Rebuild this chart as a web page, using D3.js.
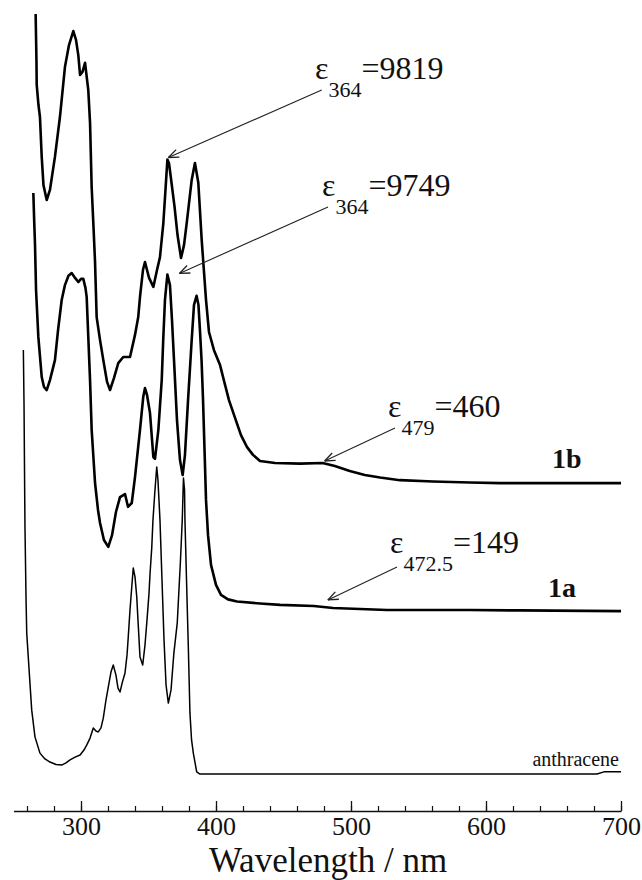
<!DOCTYPE html>
<html>
<head>
<meta charset="utf-8">
<script src="https://cdn.jsdelivr.net/npm/d3@7/dist/d3.min.js"></script>
<style>
  html, body { margin: 0; padding: 0; background: #fff; }
  svg { display: block; }
  text { font-family: "Liberation Serif", "Times New Roman", serif; fill: #111; }
</style>
</head>
<body>
<svg id="chart" width="642" height="880"></svg>
<script>
// UV-Vis absorption spectra: wavelength (nm) vs. molar absorptivity ε (M^-1 cm^-1)
const spectrum1b = [
  [266.4,14310],[267.0,12890],[267.2,12120],[268.5,11500],[269.6,11130],[270.9,9900],[272.2,9030],
  [274.6,8570],[277.0,8880],[280.7,9900],[284.4,11130],[288.1,12670],[291.1,13350],[294.3,13780],
  [296.3,13510],[298.0,13040],[299.3,12430],[301.1,12520],[303.0,12800],[305.4,11960],[306.7,10950],
  [307.9,8970],[309.1,7890],[310.4,6660],[311.6,4960],[314.1,4250],[316.5,3640],[319.3,2960],
  [321.5,2710],[324.4,3080],[327.6,3540],[331.3,3730],[336.3,3730],[340.0,4410],[342.4,4960],
  [343.7,5580],[345.9,6410],[347.4,6660],[350.4,6170],[353.6,5890],[356.3,6410],[358.5,6810],
  [361.0,7860],[362.6,8900],[364.0,9819],[365.2,9700],[366.6,9250],[369.3,8360],[371.5,7490],
  [374.1,6780],[376.3,7180],[378.3,7860],[382.0,9190],[384.4,9710],[386.9,9100],[389.4,7340],
  [392.6,5490],[394.8,4500],[398.5,3940],[403.0,3480],[406.7,2870],[409.6,2400],[414.1,1850],
  [418.5,1320],[423.0,950],[427.4,710],[432.6,520],[443.7,460],[462.2,440],[479.0,460],[488.0,370],
  [499.1,210],[510.2,90],[521.5,10],[536.3,-70],[560.7,-110],[588.1,-140],[610.4,-160],[700,-160]
];

const spectrum1a = [
  [264.7,12110],[265.3,11330],[265.9,10660],[266.7,9300],[268.4,7940],[270.9,6780],[272.6,6490],
  [274.6,6400],[277.0,6690],[280.7,7270],[283.0,8140],[285.7,9010],[288.1,9440],[290.7,9710],
  [293.1,9790],[295.6,9650],[298.0,9530],[300.0,9620],[301.7,9620],[303.3,9360],[304.2,9100],
  [305.4,7940],[306.7,6690],[307.9,5250],[310.4,3710],[312.6,2930],[314.1,2550],[317.0,2060],
  [320.2,1860],[323.0,2200],[325.9,2870],[328.9,3300],[332.6,3390],[334.8,3020],[337.6,3130],
  [340.0,3880],[343.7,5250],[346.1,6200],[347.4,6460],[348.9,6260],[351.1,5740],[353.6,4460],
  [354.8,4410],[357.3,5250],[359.8,6690],[360.9,7850],[362.2,9010],[364.0,9749],[365.9,9440],
  [367.4,8430],[368.9,7270],[371.1,5530],[373.3,4380],[375.3,3940],[377.0,4520],[379.3,6110],
  [382.0,7850],[383.7,8870],[385.6,9130],[387.0,8870],[388.1,8140],[389.3,7270],[390.4,6110],
  [391.5,4670],[392.6,3220],[394.1,2200],[396.3,1340],[400.0,760],[403.7,470],[408.9,340],
  [415.6,280],[432.6,220],[447.4,180],[472.5,149],[486.7,90],[506.7,60],[526.7,30],[588.1,30],
  [625.2,20],[700,0]
];

// anthracene, normalised absorbance
const spectrumAnthracene = [
  [257.3,1.381],[257.8,1.202],[258.1,1.023],[258.5,0.805],[259.3,0.567],[259.8,0.459],[261.7,0.329],
  [263.5,0.208],[265.9,0.121],[269.6,0.068],[273.3,0.049],[277.0,0.039],[281.5,0.031],[285.7,0.029],
  [288.9,0.036],[291.9,0.046],[295.6,0.055],[299.3,0.062],[302.2,0.078],[304.2,0.094],[306.7,0.117],
  [309.1,0.150],[311.1,0.140],[312.8,0.137],[314.8,0.150],[316.5,0.182],[318.5,0.241],[320.2,0.283],
  [322.2,0.332],[323.9,0.355],[325.9,0.322],[327.4,0.280],[328.9,0.267],[330.7,0.300],[332.6,0.329],
  [334.1,0.388],[335.0,0.446],[336.3,0.534],[337.6,0.609],[338.7,0.671],[340.0,0.642],[341.3,0.577],
  [342.2,0.502],[343.7,0.381],[345.7,0.355],[347.4,0.420],[348.9,0.502],[350.4,0.590],[351.1,0.650],
  [352.4,0.736],[353.3,0.827],[354.8,0.925],[356.1,1.000],[357.0,0.958],[358.5,0.827],[360.0,0.632],
  [361.5,0.436],[363.0,0.290],[364.7,0.231],[366.7,0.274],[368.8,0.394],[371.3,0.492],[373.7,0.697],
  [375.0,0.827],[375.9,0.964],[376.7,0.925],[377.0,0.827],[378.3,0.609],[379.5,0.414],[380.7,0.199],
  [381.9,0.111],[383.2,0.068],[385.7,0.007],[388.1,0],[682.2,0],[687.4,0.007],[700,0.007]
];

const majorTicks = [300, 400, 500, 600, 700];
const minorTicks = d3.range(260, 701, 20);
const xTitle = "Wavelength / nm";

// ε annotations: [series, wavelength, subscript, value]
const annotations = [
  ["1b", 364, "364", 9819],
  ["1a", 364, "364", 9749],
  ["1b", 479, "479", 460],
  ["1a", 472.5, "472.5", 149]
];

// ---------- layout ----------
const svg = d3.select("#chart");
const x = d3.scaleLinear().domain([250, 700]).range([13.5, 621]);
const axisY = 811;

// each trace is drawn in its own vertical band (stacked, offset spectra)
const yScales = {
  "1b": d3.scaleLinear().domain([0, 10000]).range([477.9, 153.65]),
  "1a": d3.scaleLinear().domain([0, 10000]).range([611.1, 265.8]),
  "anthracene": d3.scaleLinear().domain([0, 1]).range([774, 467])
};

const traces = [
  { key: "1b", data: spectrum1b, width: 2.6 },
  { key: "1a", data: spectrum1a, width: 2.6 },
  { key: "anthracene", data: spectrumAnthracene, width: 1.5 }
];

traces.forEach(t => {
  const y = yScales[t.key];
  const line = d3.line().x(d => x(d[0])).y(d => y(d[1])).curve(d3.curveLinear);
  svg.append("path")
    .datum(t.data)
    .attr("d", line)
    .attr("fill", "none")
    .attr("stroke", "#000")
    .attr("stroke-width", t.width)
    .attr("stroke-linejoin", "round");
});

// ---------- x axis (ticks point up) ----------
const gMinor = svg.append("g").attr("transform", `translate(0,${axisY})`)
  .call(d3.axisBottom(x).tickValues(minorTicks).tickSize(-5).tickSizeOuter(0).tickFormat(""));
gMinor.select(".domain").remove();
gMinor.selectAll("line").attr("stroke", "#111").attr("stroke-width", 1.2);

const gMajor = svg.append("g").attr("transform", `translate(0,${axisY})`)
  .call(d3.axisBottom(x).tickValues(majorTicks).tickSize(-10).tickSizeOuter(0).tickFormat(d3.format("d")));
gMajor.select(".domain").attr("stroke", "#111").attr("stroke-width", 1.5);
gMajor.selectAll("line").attr("stroke", "#111").attr("stroke-width", 1.3);
gMajor.selectAll("text")
  .attr("y", 24).attr("dy", null)
  .attr("font-family", "Liberation Serif, Times New Roman, serif")
  .attr("font-size", 26).attr("fill", "#111");

svg.append("text")
  .attr("x", 328).attr("y", 872)
  .attr("text-anchor", "middle")
  .attr("font-size", 35)
  .text(xTitle);

// ---------- annotations ----------
// label position and arrow start/tip offsets (pixels)
const annLayout = [
  { tx: 315, ty: 79, from: [321.7, 90], tipOff: [1, -2] },
  { tx: 322, ty: 196, from: [328, 207], tipOff: [12, -1] },
  { tx: 388, ty: 417, from: [395, 428], tipOff: [2, -2] },
  { tx: 390, ty: 553, from: [397, 567], tipOff: [14, -6] }
];

annotations.forEach((a, i) => {
  const L = annLayout[i];
  const tipX = x(a[1]) + L.tipOff[0];
  const tipY = yScales[a[0]](a[3]) + L.tipOff[1];
  const [fx, fy] = L.from;
  svg.append("line")
    .attr("x1", fx).attr("y1", fy).attr("x2", tipX).attr("y2", tipY)
    .attr("stroke", "#222").attr("stroke-width", 1.1);
  // open arrowhead
  const ang = Math.atan2(fy - tipY, fx - tipX);
  const len = 11, spread = 0.38;
  [ang - spread, ang + spread].forEach(t => {
    svg.append("line")
      .attr("x1", tipX).attr("y1", tipY)
      .attr("x2", tipX + len * Math.cos(t)).attr("y2", tipY + len * Math.sin(t))
      .attr("stroke", "#222").attr("stroke-width", 1.3);
  });
  const t = svg.append("text").attr("x", L.tx).attr("y", L.ty).attr("font-size", 32);
  t.append("tspan").text("ε");
  t.append("tspan").attr("font-size", 22).attr("dy", 18).text(a[2]);
  t.append("tspan").attr("dy", -18).text("=" + a[3]);
});

// ---------- series labels ----------
svg.append("text").attr("x", 552).attr("y", 468)
  .attr("font-size", 28).attr("font-weight", "bold").text("1b");
svg.append("text").attr("x", 548).attr("y", 597)
  .attr("font-size", 28).attr("font-weight", "bold").text("1a");
svg.append("text").attr("x", 619).attr("y", 766)
  .attr("text-anchor", "end").attr("font-size", 20).text("anthracene");
</script>
</body>
</html>
